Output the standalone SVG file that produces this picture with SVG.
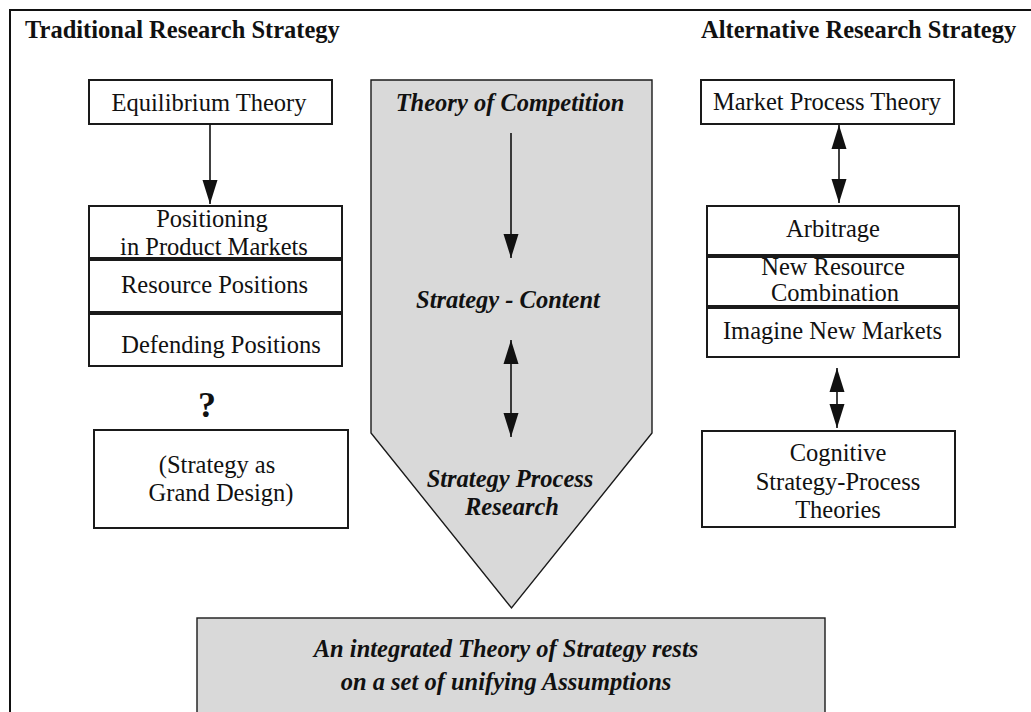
<svg xmlns="http://www.w3.org/2000/svg" width="1031" height="712" viewBox="0 0 1031 712" font-family="'Liberation Serif', 'DejaVu Serif', serif">
  <style>
    text { font-family: "Liberation Serif", "DejaVu Serif", serif; font-size: 24.5px; fill: #111; }
    .head { font-weight: bold; }
    .bi { font-weight: bold; font-style: italic; }
    .c { text-anchor: middle; }
    .box { fill: #fff; stroke: #1a1a1a; stroke-width: 2; }
    .grey { fill: #d9d9d9; stroke: #1a1a1a; stroke-width: 1.4; }
    .link { stroke: #111; stroke-width: 1.6; fill: none; }
  </style>
  <defs>
    <marker id="head" viewBox="-25 -8 26 16" refX="0" refY="0" markerWidth="26" markerHeight="16" markerUnits="userSpaceOnUse" orient="auto-start-reverse">
      <path d="M0,0 L-24,-7.5 L-24,7.5 Z" fill="#111"/>
    </marker>
  </defs>

  <rect width="1031" height="712" fill="#fff"/>

  <!-- outer frame -->
  <path d="M10,720 L10,10 L1040,10" fill="none" stroke="#111" stroke-width="2"/>

  <!-- column headings -->
  <text class="head" x="25" y="38">Traditional Research Strategy</text>
  <text class="head" x="701" y="38">Alternative Research Strategy</text>

  <!-- centre funnel -->
  <g id="funnel">
    <path class="grey" d="M371,80 L652,80 L652,433 L511.5,608 L371,433 Z"/>
    <text class="bi c" x="510" y="111">Theory of Competition</text>
    <text class="bi c" x="508" y="308">Strategy - Content</text>
    <text class="bi c" x="510" y="487">Strategy Process</text>
    <text class="bi c" x="512" y="515">Research</text>
  </g>

  <!-- integrated theory -->
  <g id="integrated">
    <rect class="grey" x="197" y="618" width="628" height="110"/>
    <text class="bi c" x="506" y="657">An integrated Theory of Strategy rests</text>
    <text class="bi c" x="506" y="690">on a set of unifying Assumptions</text>
  </g>

  <!-- traditional column -->
  <g id="equilibrium">
    <rect class="box" x="89" y="80" width="243" height="44"/>
    <text class="c" x="209" y="111">Equilibrium Theory</text>
  </g>
  <g id="positioning">
    <rect class="box" x="89" y="206" width="253" height="52"/>
    <text class="c" x="212" y="227">Positioning</text>
    <text class="c" x="214" y="255">in Product Markets</text>
  </g>
  <g id="resource-positions">
    <rect class="box" x="89" y="260" width="253" height="52"/>
    <text class="c" x="214.5" y="293">Resource Positions</text>
  </g>
  <g id="defending">
    <rect class="box" x="89" y="314" width="253" height="52"/>
    <text class="c" x="221" y="353">Defending Positions</text>
  </g>
  <g id="question">
    <text class="head c" x="207" y="417" style="font-size:36px">?</text>
  </g>
  <g id="grand-design">
    <rect class="box" x="94" y="430" width="254" height="98"/>
    <text class="c" x="217" y="473">(Strategy as</text>
    <text class="c" x="221" y="501">Grand Design)</text>
  </g>

  <!-- alternative column -->
  <g id="market-process">
    <rect class="box" x="701" y="80" width="253" height="44"/>
    <text class="c" x="827" y="110">Market Process Theory</text>
  </g>
  <g id="arbitrage">
    <rect class="box" x="707" y="206" width="252" height="49"/>
    <text class="c" x="833" y="237">Arbitrage</text>
  </g>
  <g id="new-resource">
    <rect class="box" x="707" y="257" width="252" height="49"/>
    <text class="c" x="833" y="275">New Resource</text>
    <text class="c" x="835" y="301">Combination</text>
  </g>
  <g id="imagine">
    <rect class="box" x="707" y="308" width="252" height="49"/>
    <text class="c" x="832.5" y="339">Imagine New Markets</text>
  </g>
  <g id="cognitive">
    <rect class="box" x="702" y="431" width="253" height="96"/>
    <text class="c" x="838" y="461">Cognitive</text>
    <text class="c" x="838" y="490">Strategy-Process</text>
    <text class="c" x="838" y="518">Theories</text>
  </g>

  <!-- connectors -->
  <g id="connectors">
    <line class="link" x1="210" y1="124" x2="210" y2="204" marker-end="url(#head)"/>
    <line class="link" x1="511" y1="133" x2="511" y2="258" marker-end="url(#head)"/>
    <line class="link" x1="511" y1="340" x2="511" y2="437" marker-start="url(#head)" marker-end="url(#head)"/>
    <line class="link" x1="839" y1="125" x2="839" y2="203" marker-start="url(#head)" marker-end="url(#head)"/>
    <line class="link" x1="837" y1="368" x2="837" y2="428" marker-start="url(#head)" marker-end="url(#head)"/>
  </g>
</svg>
